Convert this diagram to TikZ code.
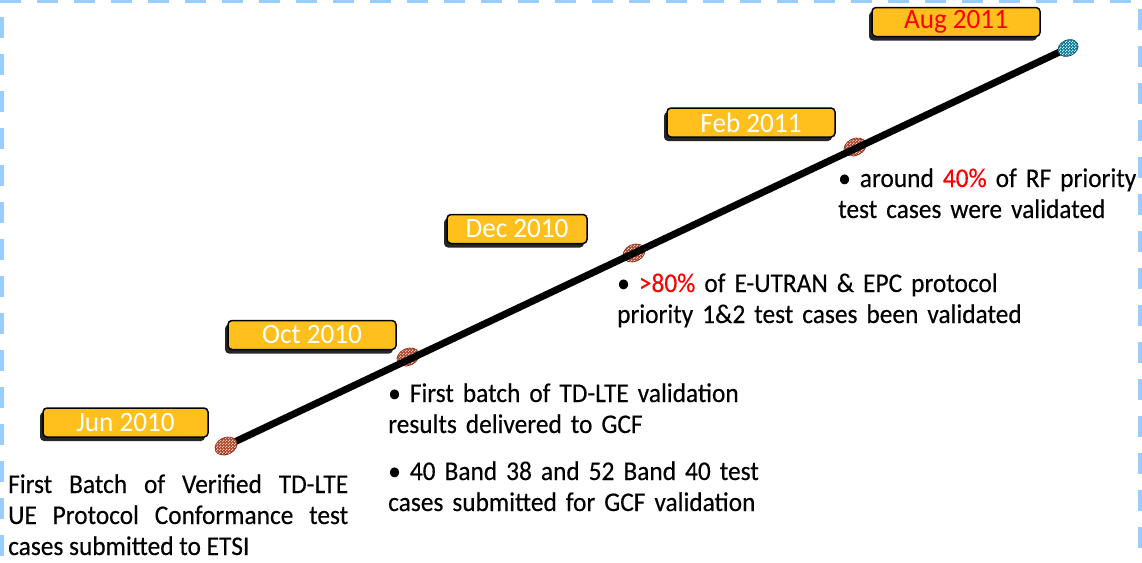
\documentclass[tikz,border=0pt]{standalone}
\usepackage{fontspec}
\setmainfont[FakeStretch=0.94,FakeBold=0.35]{Carlito}
\newfontfamily\lblfont[FakeStretch=0.97]{Carlito}
\usetikzlibrary{patterns,shadows,shapes.geometric}
\hyphenpenalty=10000
\exhyphenpenalty=10000
\definecolor{bordblue}{RGB}{153,204,255}
\definecolor{lblyellow}{RGB}{255,192,30}
\definecolor{mkbrown}{RGB}{175,65,35}
\definecolor{mkblue}{RGB}{30,110,150}
\definecolor{hlred}{RGB}{255,0,0}
\pgfdeclarepatternformonly{finecheck}{\pgfpointorigin}{\pgfqpoint{3pt}{3pt}}{\pgfqpoint{3pt}{3pt}}{%
  \pgfpathrectangle{\pgfpointorigin}{\pgfqpoint{1.5pt}{1.5pt}}%
  \pgfpathrectangle{\pgfqpoint{1.5pt}{1.5pt}}{\pgfqpoint{1.5pt}{1.5pt}}%
  \pgfusepath{fill}}
\begin{document}
\begin{tikzpicture}[x=1pt,y=-1pt,
  border/.style={draw=bordblue,line width=4pt,dash pattern=on 21pt off 16pt},
  datebox/.style={draw=black,line width=1.5pt,fill=lblyellow,rounded corners=4pt,
    minimum height=29pt,inner sep=0pt,text=white,font=\lblfont\fontsize{28}{28}\selectfont,
    drop shadow={shadow xshift=-3pt,shadow yshift=-4pt,opacity=1,fill=black!85,rounded corners=4pt}},
  body/.style={anchor=base west,inner sep=0pt,align=left,font=\fontsize{27}{31}\selectfont},
  brownmark/.style={ellipse,rotate=25,minimum width=23pt,minimum height=17pt,inner sep=0pt,
    draw=mkbrown!70!black,line width=0.6pt,
    preaction={fill=mkbrown},pattern=finecheck,pattern color=white!70!mkbrown},
  bluemark/.style={ellipse,rotate=25,minimum width=21pt,minimum height=16pt,inner sep=0pt,
    draw=mkblue!70!black,line width=0.6pt,
    preaction={fill=mkblue},pattern=finecheck,pattern color=white!60!cyan}]
\useasboundingbox (0,0) rectangle (1142,562);
% dashed frame
\draw[border] (0,0.5) -- (1142,0.5);
\draw[border,dash phase=-17pt] (1.5,0) -- (1.5,562);
\draw[border,dash phase=-9pt] (1140,0) -- (1140,562);
% markers under the line
\coordinate (pjun) at (226,446);
\coordinate (paug) at (1068,48);
\node[brownmark] (moct) at (408,357) {};
\node[brownmark] (mdec) at (634,253) {};
\node[brownmark] (mfeb) at (855,147) {};
\draw[line width=7pt] (pjun) -- (paug);
\node[brownmark] (mjun) at (pjun) {};
\node[bluemark] (maug) at (paug) {};
% date labels
\node[datebox,minimum width=165pt] (ljun) at (125.5,422.5) {Jun 2010};
\node[datebox,minimum width=168pt] (loct) at (312,335) {Oct 2010};
\node[datebox,minimum width=140pt] (ldec) at (517,229) {Dec 2010};
\node[datebox,minimum width=168pt] (lfeb) at (751,122.5) {Feb 2011};
\node[datebox,minimum width=168pt,text=hlred] (laug) at (956,22) {Aug 2011};
% texts
\node[body,text width=340pt,align=justify] (tjun) at (8,493)
  {First Batch of Verified TD-LTE\linebreak UE Protocol Conformance test\linebreak cases submitted to ETSI};
\node[body,text width=400pt] (toct1) at (388,402)
  {\textbullet{} First batch of TD-LTE validation\\results delivered to GCF};
\node[body,text width=400pt] (toct2) at (388,480)
  {\textbullet{} 40 Band 38 and 52 Band 40 test\\cases submitted for GCF validation};
\node[body,text width=420pt] (tdec) at (617,292)
  {\textbullet{} \textcolor{hlred}{>80\%} of E-UTRAN \& EPC protocol\\priority 1\&2 test cases been validated};
\node[body,text width=330pt] (tfeb) at (838,187)
  {\textbullet{} around \textcolor{hlred}{40\%} of RF priority\\test cases were validated};
\end{tikzpicture}
\end{document}
